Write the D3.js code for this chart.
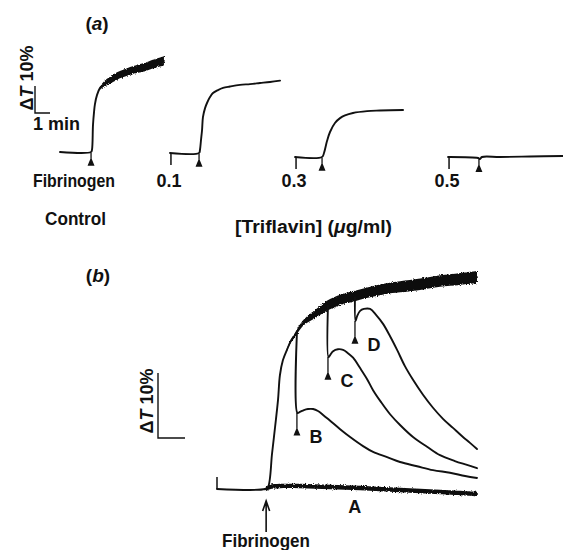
<!DOCTYPE html>
<html>
<head>
<meta charset="utf-8">
<script src="https://cdn.jsdelivr.net/npm/d3@7"></script>
<style>
  html, body { margin: 0; padding: 0; background: #fff; }
  svg { display: block; }
  text { font-family: "Liberation Sans", Arial, Helvetica, sans-serif; fill: #111; font-weight: bold; }
</style>
</head>
<body>
<div id="chart"></div>
<script>
// ---------- Panel (a): recorder time (min) and light transmission change ΔT (%) ----------
const aControlT = [0, 2.07, 2.13, 2.2, 2.27, 2.33, 2.47, 2.67, 2.93, 3.13, 3.47, 3.8, 4.2, 4.67, 5.13, 5.67, 6.13, 6.67, 6.93];
const aControlV = [1.85, 1.85, 2.6, 11.9, 16.7, 19.6, 23.0, 25.6, 27.0, 27.8, 28.9, 30.0, 30.9, 31.9, 32.6, 33.3, 34.3, 35.2, 35.6];

const a01T = [7.33, 9.27, 9.33, 9.4, 9.47, 9.53, 9.67, 9.8, 10.0, 10.2, 10.53, 10.87, 11.33, 12.0, 12.67, 13.33, 14.0, 14.67];
const a01V = [1.48, 1.48, 2.6, 6.3, 10.0, 14.8, 18.1, 20.0, 22.2, 23.7, 24.8, 25.6, 26.1, 26.7, 27.0, 27.4, 27.8, 28.3];

const a03T = [15.67, 17.47, 17.6, 17.8, 18.0, 18.33, 18.67, 19.0, 19.53, 20.47, 21.33, 22.87];
const a03V = [0, 0, 1.48, 5.9, 9.26, 12.6, 14.4, 15.4, 16.3, 17.0, 17.2, 17.4];

const a05T = [25.87, 27.87, 28.0, 28.13, 29.33, 31.33, 33.53];
const a05V = [0, -0.37, -0.74, 0, 0, 0.19, 0.37];

// triflavin added (start tick) and fibrinogen added (arrow), min
const aDoseLabels = ["0.1", "0.3", "0.5"];
const aDoseTimes = [7.33, 15.67, 25.87];
const aDoseBase = [1.48, 0, 0];
const aFibTimes = [2.07, 9.27, 17.47, 27.93];
const aFibBase = [1.85, 1.48, 0, -0.5];

// ---------- Panel (b) ----------
const bMainT = [0, 1.78, 1.89, 2.04, 2.15, 2.26, 2.33, 2.44, 2.59, 2.74, 2.89, 3.07, 3.26, 3.63, 4.07, 4.56, 5.11, 5.67, 6.22, 6.78, 7.52, 8.26, 9.0, 9.63];
const bMainV = [0, 0, 0.3, 5.5, 9.5, 13.7, 17.5, 19.8, 21.4, 22.8, 23.7, 24.9, 25.8, 26.9, 28.2, 29.1, 29.7, 30.3, 30.8, 31.1, 31.5, 32.0, 32.3, 32.6];

const bAT = [1.81, 1.96, 2.33, 3.07, 4.19, 5.3, 6.78, 8.26, 9.63];
const bAV = [0, 0.3, 0.46, 0.46, 0.3, 0.15, -0.15, -0.46, -0.77];

const bBT = [2.96, 2.98, 3.07, 3.22, 3.37, 3.56, 3.74, 3.93, 4.19, 4.56, 4.93, 5.41, 5.78, 6.3, 6.78, 7.41, 8.0, 8.63, 9.19, 9.63];
const bBV = [24.0, 11.7, 11.85, 12.15, 12.3, 12.3, 12.0, 11.4, 10.5, 9.2, 8.0, 6.6, 5.7, 4.9, 4.15, 3.5, 2.9, 2.5, 2.0, 1.7];

const bCT = [4.11, 4.13, 4.19, 4.3, 4.48, 4.67, 4.85, 5.04, 5.3, 5.56, 5.78, 6.07, 6.41, 6.78, 7.26, 7.78, 8.26, 8.81, 9.26, 9.63];
const bCV = [28.2, 20.3, 20.6, 21.2, 21.5, 21.4, 20.9, 20.2, 18.6, 16.9, 15.2, 13.4, 11.5, 9.85, 8.0, 6.5, 5.2, 4.3, 3.7, 3.2];

const bDT = [5.11, 5.13, 5.19, 5.3, 5.44, 5.67, 5.89, 6.15, 6.41, 6.67, 6.96, 7.26, 7.63, 8.0, 8.37, 8.74, 9.11, 9.37, 9.63];
const bDV = [29.5, 25.85, 26.6, 27.4, 27.7, 27.7, 26.8, 25.4, 23.5, 21.4, 18.9, 16.8, 14.5, 12.5, 10.8, 9.4, 8.0, 7.1, 6.15];

const bTraceLabels = ["B", "C", "D"];
const bTriflavinTimes = [2.96, 4.11, 5.11];
const bTriflavinBase = [11.7, 20.3, 25.85];
const bFibTime = 1.82;

// ---------- drawing ----------
const W = 563, H = 550;
const svg = d3.select("#chart").append("svg").attr("width", W).attr("height", H);

const defs = svg.append("defs");
const rough = defs.append("filter").attr("id", "rough")
  .attr("x", "-5%").attr("y", "-20%").attr("width", "110%").attr("height", "140%");
rough.append("feTurbulence").attr("type", "fractalNoise").attr("baseFrequency", "0.9")
  .attr("numOctaves", 2).attr("seed", 3).attr("result", "n");
rough.append("feDisplacementMap").attr("in", "SourceGraphic").attr("in2", "n")
  .attr("scale", 3.2).attr("xChannelSelector", "R").attr("yChannelSelector", "G");

const zip = (T, V) => T.map((t, i) => ({ t, v: V[i] }));
const curve = d3.curveCatmullRom.alpha(0.5);

// scales: panel (a) 15 px per min, 2.7 px per %; panel (b) 27 px per min, 6.5 px per %
const xA = d3.scaleLinear().domain([0, 1]).range([60, 75]);
const yA = d3.scaleLinear().domain([0, 10]).range([157, 130]);
const xB = d3.scaleLinear().domain([0, 1]).range([217, 244]);
const yB = d3.scaleLinear().domain([0, 10]).range([489, 424]);

function drawLine(g, data, x, y, w) {
  g.append("path").datum(data)
    .attr("d", d3.line().x(d => x(d.t)).y(d => y(d.v)).curve(curve))
    .attr("fill", "none").attr("stroke", "#111").attr("stroke-width", w)
    .attr("stroke-linejoin", "round").attr("stroke-linecap", "round");
}
function drawBand(g, data, x, y, hw) {
  g.append("path").datum(data)
    .attr("d", d3.area().x(d => x(d.t)).y0(d => y(d.v) - hw(d.t)).y1(d => y(d.v) + hw(d.t)).curve(curve))
    .attr("fill", "#111").attr("filter", "url(#rough)");
}
function drawArrowUp(g, x, y0, len) {
  // small recorder marker: stem hanging from the trace, ending in a caret
  g.append("path")
    .attr("d", `M${x},${y0} L${x},${y0 + len} M${x - 2.5},${y0 + len} L${x},${y0 + len - 6} L${x + 2.5},${y0 + len} Z`)
    .attr("fill", "#111").attr("stroke", "#111").attr("stroke-width", 1.3);
}
function panelLabel(g, x, y, letter) {
  const t = g.append("text").attr("x", x).attr("y", y).attr("text-anchor", "middle").attr("font-size", 19);
  t.append("tspan").text("(");
  t.append("tspan").attr("font-style", "italic").text(letter);
  t.append("tspan").text(")");
}
function deltaT(g, x, y) {
  const t = g.append("text").attr("transform", `translate(${x},${y}) rotate(-90)`)
    .attr("text-anchor", "middle").attr("font-size", 18);
  t.append("tspan").text("Δ");
  t.append("tspan").attr("font-style", "italic").text("T");
  t.append("tspan").text(" 10%");
}

// ===== panel (a) =====
const gA = svg.append("g");
panelLabel(gA, 97, 30, "a");

// scale bar: 10 % vertical, 1 min horizontal
const sbA = { x: 35, y: 113 };
gA.append("path")
  .attr("d", `M${sbA.x},${sbA.y - (yA(0) - yA(10))} L${sbA.x},${sbA.y} L${sbA.x + (xA(1) - xA(0))},${sbA.y}`)
  .attr("fill", "none").attr("stroke", "#111").attr("stroke-width", 1.4);
deltaT(gA, 33, 78);
gA.append("text").attr("x", 33).attr("y", 130).attr("font-size", 18).text("1 min");

const aTraces = [zip(aControlT, aControlV), zip(a01T, a01V), zip(a03T, a03V), zip(a05T, a05V)];
aTraces.forEach(d => drawLine(gA, d, xA, yA, 1.9));
// noisy plateau of the control trace
drawBand(gA, aTraces[0].filter(d => d.t >= 2.6), xA, yA, t => t < 3.2 ? 1.5 + (t - 2.6) * 3.3 : 3.5 + (t - 3.2) * 0.3);

aDoseTimes.forEach((t, i) => {
  const x = xA(t);
  gA.append("line").attr("x1", x + 1).attr("x2", x + 1).attr("y1", yA(aDoseBase[i])).attr("y2", yA(aDoseBase[i]) + 12)
    .attr("stroke", "#111").attr("stroke-width", 1.5);
  gA.append("text").attr("x", x - 1).attr("y", 187).attr("text-anchor", "middle").attr("font-size", 18).text(aDoseLabels[i]);
});
aFibTimes.forEach((t, i) => drawArrowUp(gA, xA(t), yA(aFibBase[i]) + 1, 12));

gA.append("text").attr("x", 33).attr("y", 187).attr("font-size", 18)
  .attr("textLength", 82).attr("lengthAdjust", "spacingAndGlyphs").text("Fibrinogen");
gA.append("text").attr("x", 45).attr("y", 225).attr("font-size", 18)
  .attr("textLength", 61).attr("lengthAdjust", "spacingAndGlyphs").text("Control");
const trif = gA.append("text").attr("x", 235).attr("y", 233).attr("font-size", 18)
  .attr("textLength", 157).attr("lengthAdjust", "spacingAndGlyphs");
trif.append("tspan").text("[Triflavin] (");
trif.append("tspan").attr("font-style", "italic").text("μ");
trif.append("tspan").text("g/ml)");

// ===== panel (b) =====
const gB = svg.append("g");
panelLabel(gB, 98, 282, "b");

const sbB = { x: 158, y: 438 };
gB.append("path")
  .attr("d", `M${sbB.x},${sbB.y - (yB(0) - yB(10))} L${sbB.x},${sbB.y} L${sbB.x + (xB(1) - xB(0))},${sbB.y}`)
  .attr("fill", "none").attr("stroke", "#111").attr("stroke-width", 1.4);
deltaT(gB, 153, 401);

// start tick of the recording
gB.append("line").attr("x1", xB(0)).attr("x2", xB(0)).attr("y1", yB(0)).attr("y2", yB(0) - 12)
  .attr("stroke", "#111").attr("stroke-width", 1.5);

const bMain = zip(bMainT, bMainV);
drawLine(gB, bMain, xB, yB, 1.9);
drawBand(gB, bMain.filter(d => d.t >= 2.5), xB, yB, t => t < 4 ? 1 + (t - 2.5) * 2.7 : 5 + (t - 4) * 0.18);

const bA = zip(bAT, bAV);
drawLine(gB, bA, xB, yB, 2);
drawBand(gB, bA, xB, yB, () => 2.2);

[zip(bBT, bBV), zip(bCT, bCV), zip(bDT, bDV)].forEach(d => drawLine(gB, d, xB, yB, 1.9));

bTriflavinTimes.forEach((t, i) => {
  const x = xB(t), y0 = yB(bTriflavinBase[i]);
  drawArrowUp(gB, x, y0, 22);
  gB.append("text").attr("x", x + 19).attr("y", y0 + 30).attr("text-anchor", "middle")
    .attr("font-size", 18).text(bTraceLabels[i]);
});
gB.append("text").attr("x", xB(5.1)).attr("y", yB(0) + 24).attr("text-anchor", "middle")
  .attr("font-size", 18).text("A");

// fibrinogen addition arrow
const fx = xB(bFibTime);
gB.append("path")
  .attr("d", `M${fx},${yB(0) + 43} L${fx},${yB(0) + 12} M${fx - 3.5},${yB(0) + 22} L${fx},${yB(0) + 12} L${fx + 3.5},${yB(0) + 22}`)
  .attr("fill", "none").attr("stroke", "#111").attr("stroke-width", 1.6);
gB.append("text").attr("x", 222).attr("y", 547).attr("font-size", 18)
  .attr("textLength", 88).attr("lengthAdjust", "spacingAndGlyphs").text("Fibrinogen");
</script>
</body>
</html>
